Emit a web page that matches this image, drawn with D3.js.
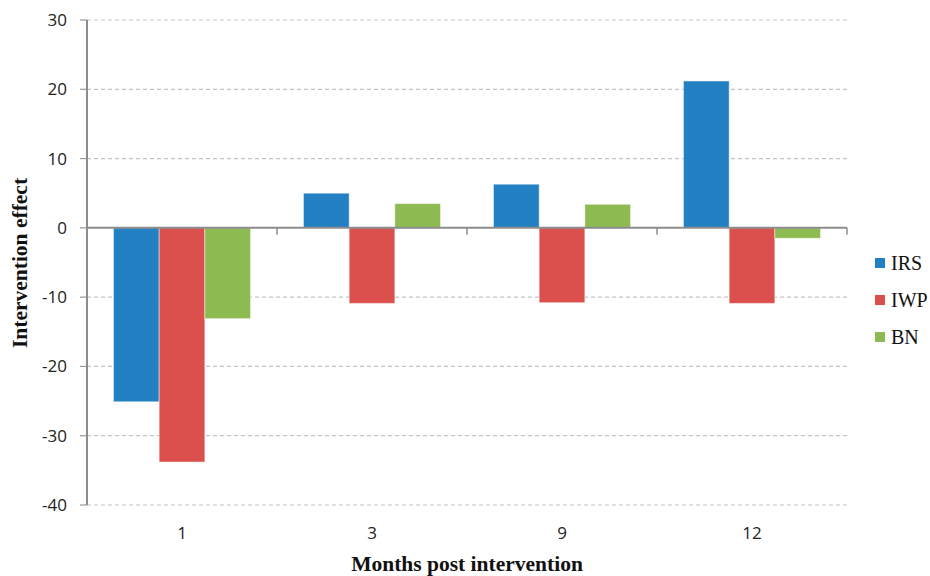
<!DOCTYPE html>
<html>
<head>
<meta charset="utf-8">
<script src="https://cdn.jsdelivr.net/npm/d3@7"></script>
<style>
  body { margin: 0; background: #fff; }
  .tick-label { font-family: "Open Sans", "Liberation Sans", sans-serif; font-size: 17px; fill: #222; }
  .title { font-family: "Liberation Serif", "Times New Roman", serif; font-weight: bold; font-size: 21.5px; fill: #111; }
  .legend-text { font-family: "Liberation Serif", "Times New Roman", serif; font-size: 20px; fill: #111; }
</style>
</head>
<body>
<svg id="chart" width="930" height="576"></svg>
<script>
// months on the x axis
let months = ['1', '3', '9', '12'];
let seriesNames = ['IRS', 'IWP', 'BN'];
let seriesColors = ['#2381c3', '#db504c', '#8dbb52'];
// values
let irs = [-25.1, 5.0, 6.3, 21.2];
let iwp = [-33.8, -10.9, -10.8, -10.9];
let bn = [-13.1, 3.5, 3.4, -1.5];
let yTicks = [30, 20, 10, 0, -10, -20, -30, -40];

let svg = d3.select('#chart');

let plotLeft = 87, plotRight = 847, plotTop = 20, plotBottom = 505;

let x = d3.scaleBand()
  .domain(months)
  .range([plotLeft, plotRight])
  .paddingInner(0)
  .paddingOuter(0);

let xInner = d3.scaleBand()
  .domain(seriesNames)
  .range([0, x.bandwidth()])
  .paddingOuter(0.58)
  .paddingInner(0);

let y = d3.scaleLinear()
  .domain([-40, 30])
  .range([plotBottom, plotTop]);

// gridlines
svg.append('g').selectAll('line')
  .data(yTicks.filter(d => d != 0))
  .join('line')
  .attr('x1', plotLeft)
  .attr('x2', plotRight)
  .attr('y1', d => y(d))
  .attr('y2', d => y(d))
  .style('stroke', '#c4c4c4')
  .style('stroke-width', 1.2)
  .style('stroke-dasharray', '4,3');

// y tick marks
svg.append('g').selectAll('line')
  .data(yTicks)
  .join('line')
  .attr('x1', plotLeft - 7)
  .attr('x2', plotLeft)
  .attr('y1', d => y(d))
  .attr('y2', d => y(d))
  .style('stroke', '#999')
  .style('stroke-width', 1.2);

// y tick labels
svg.append('g').selectAll('text')
  .data(yTicks)
  .join('text')
  .attr('class', 'tick-label')
  .attr('x', plotLeft - 20)
  .attr('y', d => y(d))
  .attr('dy', '0.35em')
  .attr('text-anchor', 'end')
  .text(d => d);

// bars
let data = [irs, iwp, bn];
let groups = svg.append('g').selectAll('g')
  .data(seriesNames)
  .join('g')
  .attr('fill', (d, i) => seriesColors[i]);

groups.selectAll('rect')
  .data((s, i) => months.map((m, j) => ({ month: m, series: s, value: data[i][j] })))
  .join('rect')
  .attr('x', d => x(d.month) + xInner(d.series))
  .attr('width', xInner.bandwidth())
  .attr('y', d => y(Math.max(0, d.value)))
  .attr('height', d => Math.abs(y(d.value) - y(0)))
  .style('stroke', 'rgba(255,255,255,0.45)')
  .style('stroke-width', 1);

// zero line and category ticks
svg.append('line')
  .attr('x1', plotLeft).attr('x2', plotRight)
  .attr('y1', y(0)).attr('y2', y(0))
  .style('stroke', '#8c8c8c')
  .style('stroke-width', 2);

let bounds = months.map(m => x(m)).concat([plotRight]);
svg.append('g').selectAll('line')
  .data(bounds)
  .join('line')
  .attr('x1', d => d).attr('x2', d => d)
  .attr('y1', y(0)).attr('y2', y(0) + 7)
  .style('stroke', '#8c8c8c')
  .style('stroke-width', 1.5);

// y axis line
svg.append('line')
  .attr('x1', plotLeft).attr('x2', plotLeft)
  .attr('y1', plotTop).attr('y2', plotBottom)
  .style('stroke', '#8c8c8c')
  .style('stroke-width', 2);

// x labels
svg.append('g').selectAll('text')
  .data(months)
  .join('text')
  .attr('class', 'tick-label')
  .attr('x', d => x(d) + x.bandwidth() / 2)
  .attr('y', 533)
  .attr('dy', '0.35em')
  .attr('text-anchor', 'middle')
  .text(d => d);

// axis titles
svg.append('text')
  .attr('class', 'title')
  .attr('text-anchor', 'middle')
  .attr('transform', 'translate(27,263)rotate(-90)')
  .text('Intervention effect');

svg.append('text')
  .attr('class', 'title')
  .attr('text-anchor', 'middle')
  .attr('x', 467)
  .attr('y', 571)
  .text('Months post intervention');

// legend
let legend = svg.append('g').selectAll('g')
  .data(seriesNames)
  .join('g')
  .attr('transform', (d, i) => `translate(875, ${263 + i * 37})`);

legend.append('rect')
  .attr('x', 0).attr('y', -5)
  .attr('width', 10).attr('height', 10)
  .attr('fill', (d, i) => seriesColors[i]);

legend.append('text')
  .attr('class', 'legend-text')
  .attr('x', 16)
  .attr('y', 0)
  .attr('dy', '0.35em')
  .text(d => d);
</script>
</body>
</html>
